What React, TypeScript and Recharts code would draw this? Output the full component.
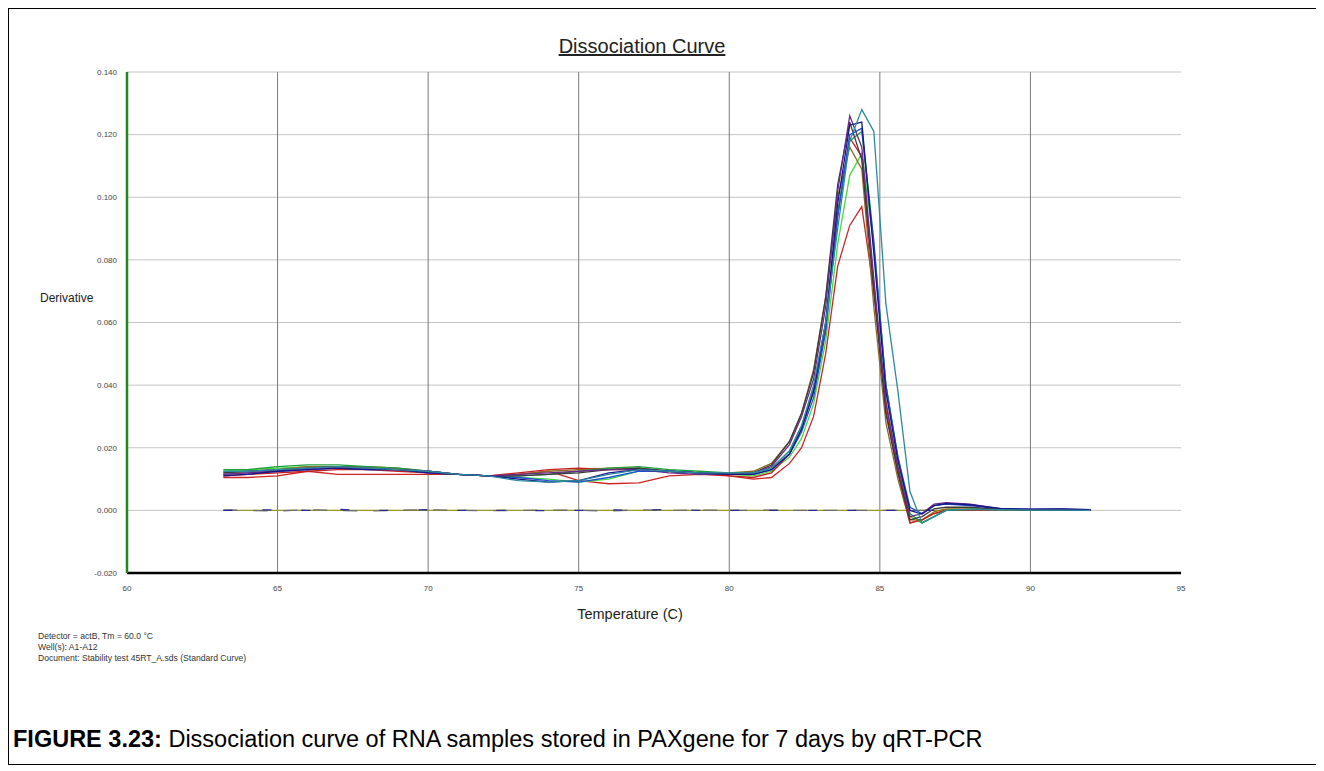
import { CartesianGrid, Line, LineChart, ReferenceLine, XAxis, YAxis } from "recharts";

const temps = [
  63.2, 64, 65, 66, 67, 68, 69, 70, 71, 72,
  73, 74, 75, 76, 77, 78, 79, 80, 80.8, 81.4,
  82.0, 82.4, 82.8, 83.2, 83.6, 84.0, 84.4, 84.8, 85.2, 85.6,
  86.0, 86.4, 86.8, 87.2, 88, 89, 90, 91, 92,
];

const xTicks = [60, 65, 70, 75, 80, 85, 90, 95];
const yTicks = [-0.02, 0, 0.02, 0.04, 0.06, 0.08, 0.1, 0.12, 0.14];
const gridTemps = [65, 70, 75, 80, 85, 90];

const wellPurple = [
  0.0115, 0.012, 0.0125, 0.0135, 0.0135, 0.0135, 0.013, 0.0125, 0.0115, 0.011,
  0.0115, 0.012, 0.0125, 0.013, 0.013, 0.012, 0.0115, 0.0115, 0.012, 0.014,
  0.021, 0.03, 0.042, 0.065, 0.102, 0.126, 0.116, 0.074, 0.034, 0.014,
  -0.002, -0.001, 0.002, 0.0025, 0.002, 0.0005, 0.0003, 0.0004, 0.0002,
];
const wellNavy = [
  0.011, 0.0115, 0.0125, 0.013, 0.0135, 0.013, 0.013, 0.012, 0.0115, 0.011,
  0.01, 0.009, 0.0095, 0.012, 0.013, 0.0125, 0.012, 0.0115, 0.0115, 0.013,
  0.018, 0.026, 0.038, 0.06, 0.098, 0.123, 0.124, 0.082, 0.038, 0.016,
  0.0, -0.0012, 0.0015, 0.0022, 0.0018, 0.0006, 0.0004, 0.0005, 0.0002,
];
const wellTeal = [
  0.0125, 0.0125, 0.013, 0.0135, 0.014, 0.0135, 0.013, 0.0125, 0.0115, 0.011,
  0.0095, 0.009, 0.0095, 0.0115, 0.013, 0.0125, 0.012, 0.012, 0.012, 0.0135,
  0.019, 0.027, 0.04, 0.06, 0.09, 0.118, 0.128, 0.121, 0.066, 0.038,
  0.006, -0.004, -0.002, 0.0, 0.0003, 0.0002, 0.0001, 0.0001, 0.0,
];
const wellRed = [
  0.011, 0.0115, 0.012, 0.0125, 0.013, 0.013, 0.0125, 0.012, 0.0115, 0.011,
  0.012, 0.013, 0.0135, 0.013, 0.013, 0.0125, 0.012, 0.011, 0.0105, 0.012,
  0.018, 0.026, 0.038, 0.058, 0.094, 0.119, 0.113, 0.072, 0.032, 0.012,
  -0.004, -0.003, -0.001, 0.0, 0.0002, 0.0001, 0.0001, 0.0001, 0.0,
];
const wellRedLow = [
  0.0105, 0.0105, 0.011, 0.0125, 0.0115, 0.0115, 0.0115, 0.0115, 0.0115, 0.011,
  0.0115, 0.0125, 0.0095, 0.0085, 0.0088, 0.011, 0.0115, 0.011, 0.01, 0.0105,
  0.015, 0.02, 0.03, 0.05, 0.078, 0.091, 0.097, 0.07, 0.035, 0.013,
  -0.003, -0.003, -0.001, 0.0, 0.0002, 0.0001, 0.0001, 0.0001, 0.0,
];
const wellLime = [
  0.0125, 0.013, 0.0135, 0.014, 0.014, 0.0135, 0.013, 0.0125, 0.0115, 0.011,
  0.0105, 0.01, 0.009, 0.01, 0.0125, 0.0125, 0.012, 0.0115, 0.011, 0.0125,
  0.017, 0.023, 0.034, 0.054, 0.085, 0.107, 0.114, 0.085, 0.04, 0.016,
  -0.002, -0.004, -0.002, 0.0, 0.0003, 0.0002, 0.0001, 0.0001, 0.0,
];
const wellOlive = [
  0.012, 0.0125, 0.013, 0.014, 0.014, 0.014, 0.0135, 0.0125, 0.0115, 0.011,
  0.0115, 0.0125, 0.013, 0.0135, 0.0135, 0.0125, 0.012, 0.012, 0.0125, 0.015,
  0.022, 0.031, 0.045, 0.068, 0.1, 0.116, 0.109, 0.065, 0.028, 0.01,
  -0.004, -0.003, -0.0005, 0.0005, 0.0005, 0.0002, 0.0001, 0.0001, 0.0,
];
const wellGreen = [
  0.013, 0.013, 0.014, 0.0145, 0.0145, 0.014, 0.0135, 0.0125, 0.0115, 0.011,
  0.011, 0.0115, 0.0125, 0.0135, 0.014, 0.013, 0.0125, 0.012, 0.012, 0.0135,
  0.019, 0.027, 0.039, 0.06, 0.095, 0.118, 0.121, 0.084, 0.04, 0.017,
  -0.001, -0.004, -0.002, 0.0, 0.0004, 0.0002, 0.0001, 0.0001, 0.0,
];
const wellDark = [
  0.012, 0.0125, 0.013, 0.0135, 0.014, 0.0135, 0.013, 0.0125, 0.0115, 0.011,
  0.011, 0.0115, 0.012, 0.013, 0.0135, 0.0125, 0.012, 0.0115, 0.012, 0.0145,
  0.022, 0.031, 0.044, 0.068, 0.104, 0.124, 0.112, 0.07, 0.031, 0.012,
  -0.003, -0.002, 0.0005, 0.001, 0.001, 0.0003, 0.0002, 0.0002, 0.0,
];
const wellBlue = [
  0.0115, 0.012, 0.0125, 0.013, 0.0135, 0.013, 0.013, 0.012, 0.0115, 0.011,
  0.0105, 0.0095, 0.009, 0.0105, 0.0125, 0.0125, 0.012, 0.0115, 0.0115, 0.013,
  0.018, 0.025, 0.036, 0.057, 0.094, 0.12, 0.122, 0.086, 0.04, 0.017,
  0.001, -0.001, 0.0015, 0.002, 0.0015, 0.0005, 0.0003, 0.0004, 0.0001,
];

// no-template controls, flat on zero
const ntcOlive = [
  0, 0, 0, 0, 0, 0, 0, 0, 0, 0,
  0, 0, 0, 0, 0, 0, 0, 0, 0, 0,
  0, 0, 0, 0, 0, 0, 0, 0, 0, 0,
  0, 0, 0, 0, 0, 0, 0, 0, 0,
];
const ntcGray = [
  0.0001, 0.0, -0.0002, 0.0002, 0.0, -0.0002, 0.0, 0.0002, 0.0, -0.0001,
  0.0, 0.0001, 0.0, -0.0002, 0.0002, 0.0, 0.0001, 0.0, 0.0, 0.0001,
  0.0, 0.0, 0.0, 0.0, 0.0, 0.0, 0.0, 0.0, 0.0, 0.0,
  0.0, 0.0, 0.0, 0.0, 0.0, 0.0002, 0.0001, 0.0002, 0.0,
];
const ntcNavy = [
  0.0, 0.0001, 0.0002, 0.0, 0.0003, 0.0, 0.0, 0.0002, 0.0, 0.0,
  0.0, -0.0001, 0.0, 0.0002, 0.0, 0.0003, 0.0, 0.0, 0.0, 0.0,
  0.0, 0.0, 0.0, 0.0, 0.0, 0.0, 0.0, 0.0, 0.0, 0.0,
  0.0, 0.0, 0.0, 0.0, 0.0, 0.0003, 0.0002, 0.0003, 0.0,
];

const wells = [
  { key: "ntcOlive", color: "#9c9a2a", values: ntcOlive, dash: undefined },
  { key: "ntcGray", color: "#6d6d6d", values: ntcGray, dash: "14 16" },
  { key: "ntcNavy", color: "#2a2a90", values: ntcNavy, dash: "9 30" },
  { key: "redLow", color: "#d02424", values: wellRedLow, dash: undefined },
  { key: "lime", color: "#42dd42", values: wellLime, dash: undefined },
  { key: "olive", color: "#8c6d1f", values: wellOlive, dash: undefined },
  { key: "red", color: "#c81e1e", values: wellRed, dash: undefined },
  { key: "green", color: "#1e9e3c", values: wellGreen, dash: undefined },
  { key: "blue", color: "#2050d0", values: wellBlue, dash: undefined },
  { key: "dark", color: "#3a3a3a", values: wellDark, dash: undefined },
  { key: "purple", color: "#6a2a8a", values: wellPurple, dash: undefined },
  { key: "navy", color: "#16168a", values: wellNavy, dash: undefined },
  { key: "teal", color: "#2a8aa0", values: wellTeal, dash: undefined },
];

const rows = temps.map((t, i) => {
  const row: Record<string, number> = { t };
  wells.forEach((w) => {
    row[w.key] = w.values[i];
  });
  return row;
});

const font = "'Liberation Sans', Arial, sans-serif";
const tickStyle = { fontSize: 8, fill: "#444", fontFamily: font };

export default function App() {
  return (
    <div
      style={{
        position: "relative",
        width: 1308,
        height: 755,
        border: "1px solid #000",
        fontFamily: font,
        background: "#fff",
      }}
    >
      <div
        style={{
          position: "absolute",
          left: 0,
          width: 1266,
          top: 26,
          textAlign: "center",
          fontSize: 20,
          color: "#222",
        }}
      >
        <span style={{ textDecoration: "underline" }}>Dissociation Curve</span>
      </div>

      <LineChart
        width={1307}
        height={620}
        data={rows}
        margin={{ top: 63, right: 135, left: 58, bottom: 36 }}
        style={{ position: "absolute", left: 0, top: 0 }}
      >
        <CartesianGrid vertical={false} stroke="#c4c4c4" />
        {gridTemps.map((g) => (
          <ReferenceLine key={g} x={g} stroke="#7a7a7a" strokeWidth={1} />
        ))}
        <XAxis
          dataKey="t"
          type="number"
          domain={[60, 95]}
          ticks={xTicks}
          tick={tickStyle}
          tickLine={false}
          tickSize={0}
          tickMargin={12}
          height={20}
          axisLine={{ stroke: "#000", strokeWidth: 2.5 }}
          allowDataOverflow
        />
        <YAxis
          type="number"
          domain={[-0.02, 0.14]}
          ticks={yTicks}
          tick={tickStyle}
          tickFormatter={(v: number) => v.toFixed(3)}
          tickLine={false}
          tickSize={0}
          tickMargin={10}
          width={60}
          axisLine={{ stroke: "#1e8a1e", strokeWidth: 2.5 }}
          allowDataOverflow
        />
        {wells.map((w) => (
          <Line
            key={w.key}
            dataKey={w.key}
            type="linear"
            stroke={w.color}
            strokeWidth={1.3}
            strokeDasharray={w.dash}
            dot={false}
            activeDot={false}
            isAnimationActive={false}
          />
        ))}
      </LineChart>

      <div
        style={{ position: "absolute", left: 31, top: 282, fontSize: 12, color: "#222" }}
      >
        Derivative
      </div>
      <div
        style={{
          position: "absolute",
          left: 521,
          width: 200,
          top: 597,
          textAlign: "center",
          fontSize: 14.5,
          color: "#222",
        }}
      >
        Temperature (C)
      </div>

      <div
        style={{
          position: "absolute",
          left: 29,
          top: 622,
          fontSize: 8.6,
          lineHeight: "11px",
          color: "#333",
        }}
      >
        <div>Detector = actB, Tm = 60.0 °C</div>
        <div>Well(s): A1-A12</div>
        <div>Document: Stability test 45RT_A.sds (Standard Curve)</div>
      </div>

      <div
        style={{
          position: "absolute",
          left: 4,
          top: 717,
          fontSize: 23.5,
          color: "#000",
          whiteSpace: "nowrap",
        }}
      >
        <b>FIGURE 3.23:</b> Dissociation curve of RNA samples stored in PAXgene for 7 days by qRT-PCR
      </div>
    </div>
  );
}
